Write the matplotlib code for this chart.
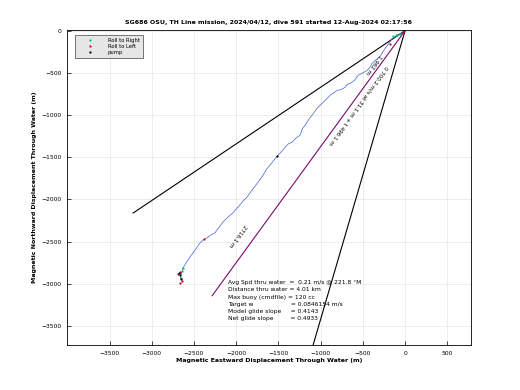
import numpy as np
import matplotlib.pyplot as plt

# ----------------------------------------------------------------------------
# data (metres, magnetic east / north through water)
# ----------------------------------------------------------------------------
track_x = [0, -83, -154, -201, -250, -296, -340, -391, -420, -450, -500, -556,
           -600, -651, -690, -710, -760, -805, -850, -888, -950, -1006, -1050,
           -1101, -1140, -1183, -1215, -1243, -1290, -1337, -1380, -1420, -1460,
           -1503, -1550, -1598, -1640, -1680, -1730, -1775, -1820, -1870, -1920,
           -1976, -2040, -2107, -2150, -2189, -2220, -2249, -2300, -2343, -2390,
           -2426, -2460, -2485, -2509, -2540, -2568, -2600, -2627, -2651, -2663]
track_y = [0, -59, -94, -165, -230, -307, -340, -389, -440, -472, -500, -531,
           -590, -625, -640, -672, -700, -708, -740, -767, -830, -884, -930,
           -1002, -1050, -1120, -1160, -1238, -1270, -1321, -1340, -1380, -1430,
           -1474, -1530, -1592, -1640, -1710, -1780, -1840, -1900, -1969, -2020,
           -2087, -2160, -2217, -2260, -2311, -2350, -2394, -2420, -2453, -2480,
           -2512, -2560, -2594, -2630, -2670, -2712, -2760, -2807, -2889, -2948]

roll_right_x = [-60, -90, -110, -140, -2627, -2640, -2655]
roll_right_y = [-40, -50, -55, -70, -2807, -2850, -2930]
roll_left_x = [-30, -178, -2380, -2660, -2690, -2670, -2640]
roll_left_y = [-20, -153, -2470, -2860, -2880, -2990, -2960]
pump_x = [-1512, -2680, -2660, -2650]
pump_y = [-1482, -2870, -2900, -2940]

# reference lines from the dive start
upper_x, upper_y = [0, -3220], [0, -2160]
steep_x, steep_y = [0, -1100], [0, -3760]
model_x, model_y = [0, -2285], [0, -3140]

title = "SG686 OSU, TH Line mission, 2024/04/12, dive 591 started 12-Aug-2024 02:17:56"
stats = ["Avg Spd thru water  =  0.21 m/s @ 221.8 \u00b0M",
         "Distance thru water = 4.01 km",
         "Max buoy (cmdfile) = 120 cc",
         "Target w                    = 0.0846154 m/s",
         "Model glide slope     = 0.4143",
         "Net glide slope         = 0.4933"]

xticks = [-3500, -3000, -2500, -2000, -1500, -1000, -500, 0, 500]
yticks = [0, -500, -1000, -1500, -2000, -2500, -3000, -3500]

# ----------------------------------------------------------------------------
plt.rcParams['font.family'] = 'DejaVu Sans'
fig = plt.figure(figsize=(5.2, 3.9), dpi=100)
ax = fig.add_axes([0.1294, 0.1136, 0.7758, 0.8113])

ax.plot(upper_x, upper_y, color='black', lw=0.8)
ax.plot(steep_x, steep_y, color='black', lw=0.8)
ax.plot(model_x, model_y, color='#7a0a70', lw=0.8)
ax.plot(track_x, track_y, color='#4060d8', lw=0.5)

ax.plot(roll_right_x, roll_right_y, 'o', color='#00c060', ms=1.6, mew=0, label='Roll to Right')
ax.plot(roll_left_x, roll_left_y, 'o', color='#d00020', ms=1.6, mew=0, label='Roll to Left')
ax.plot(pump_x, pump_y, 'o', color='black', ms=1.6, mew=0, label='pump')

# line labels (upside-down, as in the original)
ax.text(-1980, -2430, "2716.1 m", rotation=-126, fontsize=4, ha='center', va='center')
ax.text(-370, -400, "1.962 m", rotation=-126, fontsize=4, ha='center', va='center')
ax.text(-560, -880, "0 700.2 m/s at 31.1 m + t 496.1 m", rotation=-126,
        fontsize=4, ha='center', va='center')

for i, line in enumerate(stats):
    ax.text(-2100, -2985 - i * 85, line, fontsize=4.3, ha='left', va='center')

ax.set_xlim(-4000, 777)
ax.set_ylim(-3724, 8)
ax.set_aspect('equal', adjustable='box')
ax.set_xticks(xticks)
ax.set_yticks(yticks)
ax.tick_params(direction='in', labelsize=4.3, length=3, width=0.5, pad=4)
ax.grid(True, color='#e6e6e6', lw=0.5)
ax.set_axisbelow(True)
for s in ax.spines.values():
    s.set_linewidth(0.6)

ax.set_title(title, fontsize=4.5, fontweight='bold', pad=4)
ax.set_xlabel("Magnetic Eastward Displacement Through Water (m)", fontsize=4.5, fontweight='bold', labelpad=2)
ax.set_ylabel("Magnetic Northward Displacement Through Water (m)", fontsize=4.5, fontweight='bold', labelpad=3)

leg = ax.legend(loc='upper left', bbox_to_anchor=(0.02, 0.985), fontsize=3.8, frameon=True,
                fancybox=False, markerscale=1.0, handlelength=4.5, borderpad=0.6,
                labelspacing=0.2, handletextpad=1.0, borderaxespad=0)
leg.get_frame().set_facecolor('#e6e6e6')
leg.get_frame().set_edgecolor('#404040')
leg.get_frame().set_linewidth(0.5)
leg.get_frame().set_alpha(1)

fig.savefig('out.png', dpi=100)
